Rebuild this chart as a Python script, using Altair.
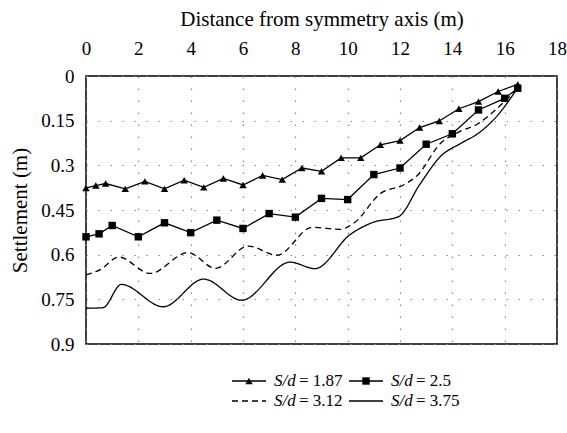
import altair as alt
import pandas as pd

# ---------------- data ----------------
x_ticks = [0, 2, 4, 6, 8, 10, 12, 14, 16, 18]
y_ticks = [0, 0.15, 0.3, 0.45, 0.6, 0.75, 0.9]

series_labels = ["1.87", "2.5", "3.12", "3.75"]

x_187 = [0.0, 0.375, 0.75, 1.5, 2.25, 3.0, 3.75, 4.5, 5.25, 6.0, 6.75, 7.5, 8.25,
         9.0, 9.75, 10.5, 11.25, 12.0, 12.75, 13.5, 14.25, 15.0, 15.75, 16.5]
y_187 = [0.376, 0.368, 0.361, 0.379, 0.354, 0.379, 0.350, 0.374, 0.344, 0.366, 0.334, 0.348, 0.309,
         0.320, 0.275, 0.275, 0.231, 0.217, 0.173, 0.151, 0.110, 0.086, 0.052, 0.028]

x_25 = [0.0, 0.5, 1.0, 2.0, 3.0, 4.0, 5.0, 6.0, 7.0, 8.0, 9.0, 10.0, 11.0, 12.0,
        13.0, 14.0, 15.0, 16.0, 16.5]
y_25 = [0.540, 0.530, 0.502, 0.540, 0.493, 0.526, 0.484, 0.512, 0.462, 0.474, 0.411, 0.415,
        0.331, 0.309, 0.229, 0.194, 0.114, 0.075, 0.041]

x_312 = [0.0, 0.55, 1.25, 2.45, 3.9, 4.95, 6.2, 7.3, 8.65, 9.7, 10.25, 11.25, 12.15,
         12.65, 13.55, 14.3, 14.95, 15.65, 16.5]
y_312 = [0.668, 0.650, 0.608, 0.663, 0.593, 0.646, 0.571, 0.602, 0.508, 0.515, 0.493,
         0.395, 0.365, 0.335, 0.226, 0.186, 0.162, 0.114, 0.040]

x_375 = [0.0, 0.65, 1.35, 2.95, 4.5, 5.95, 7.8, 8.75, 10.1, 10.95, 11.95, 12.75,
         13.55, 14.35, 14.95, 15.65, 16.5]
y_375 = [0.780, 0.778, 0.700, 0.775, 0.682, 0.753, 0.625, 0.647, 0.532, 0.492, 0.472,
         0.365, 0.270, 0.225, 0.195, 0.140, 0.040]

# ---------------- build table ----------------
rows = []
for lab, xs, ys in zip(series_labels, [x_187, x_25, x_312, x_375], [y_187, y_25, y_312, y_375]):
    for a, b in zip(xs, ys):
        rows.append({"series": lab, "x": a, "y": b})
df = pd.DataFrame(rows)

FONT = "Liberation Serif, DejaVu Serif, Times New Roman, serif"
W, H = 471, 268
LABEL_SIZE = 19
TITLE_SIZE = 21
LEGEND_SIZE = 17

x_enc = alt.X("x:Q",
              scale=alt.Scale(domain=[0, 18], nice=False, zero=False),
              axis=alt.Axis(orient="top", values=x_ticks, title="Distance from symmetry axis (m)",
                            labelPadding=18, titlePadding=10, ticks=False, domain=False,
                            grid=True, labelFlush=False))
y_enc = alt.Y("y:Q",
              scale=alt.Scale(domain=[0, 0.9], reverse=True, nice=False, zero=False),
              axis=alt.Axis(values=y_ticks, format=".2~f", title="Settlement (m)",
                            labelPadding=12, titlePadding=10, ticks=False, domain=False,
                            grid=True, labelFlush=False))

base = alt.Chart(df)

marker_lines = base.transform_filter(
    alt.FieldOneOfPredicate(field="series", oneOf=["1.87", "2.5"])
).mark_line(color="black", strokeWidth=1.3).encode(x=x_enc, y=y_enc, detail="series:N")

marker_pts = base.transform_filter(
    alt.FieldOneOfPredicate(field="series", oneOf=["1.87", "2.5"])
).mark_point(filled=True, color="black", opacity=1, size=55).encode(
    x=x_enc, y=y_enc,
    shape=alt.Shape("series:N", scale=alt.Scale(domain=["1.87", "2.5"], range=["triangle-up", "square"]),
                    legend=None))

smooth_lines = base.transform_filter(
    alt.FieldOneOfPredicate(field="series", oneOf=["3.12", "3.75"])
).mark_line(color="black", strokeWidth=1.3, interpolate="monotone").encode(
    x=x_enc, y=y_enc,
    strokeDash=alt.StrokeDash("series:N", scale=alt.Scale(domain=["3.12", "3.75"], range=[[6, 4], [1, 0]]),
                              legend=None))

# ---------------- manual legend (layout in plot-relative pixels) ----------------
one = pd.DataFrame({"k": [0]})
col_line_x = [146, 263]
line_len = 34
row_y = [305, 325]
legend_layers = []
for i, lab in enumerate(series_labels):
    c = i % 2
    r = i // 2
    lx = col_line_x[c]
    ly = row_y[r]
    dash = [6, 4] if lab == "3.12" else [1, 0]
    rule = alt.Chart(one).mark_rule(color="black", strokeWidth=1.3, strokeDash=dash).encode(
        x=alt.value(lx), x2=alt.value(lx + line_len), y=alt.value(ly))
    legend_layers.append(rule)
    if lab in ("1.87", "2.5"):
        shp = "triangle-up" if lab == "1.87" else "square"
        pt = alt.Chart(one).mark_point(filled=True, color="black", opacity=1, size=55, shape=shp).encode(
            x=alt.value(lx + line_len / 2), y=alt.value(ly))
        legend_layers.append(pt)
    tx = lx + line_len + 8
    t1 = alt.Chart(one).mark_text(font=FONT, fontSize=LEGEND_SIZE, fontStyle="italic", align="left",
                                  baseline="middle", color="black").encode(
        x=alt.value(tx), y=alt.value(ly), text=alt.value("S/d"))
    t2 = alt.Chart(one).mark_text(font=FONT, fontSize=LEGEND_SIZE, align="left",
                                  baseline="middle", color="black").encode(
        x=alt.value(tx + 25), y=alt.value(ly), text=alt.value("= " + lab))
    legend_layers += [t1, t2]

chart = alt.layer(marker_lines, marker_pts, smooth_lines, *legend_layers).properties(
    width=W, height=H,
    autosize=alt.AutoSizeParams(type="none"),
    padding={"left": 86, "top": 76, "right": 10, "bottom": 89},
    background="white",
).configure_view(
    stroke="black", strokeWidth=1.5
).configure_axis(
    labelFont=FONT, titleFont=FONT, labelFontSize=LABEL_SIZE, titleFontSize=TITLE_SIZE,
    labelColor="black", titleColor="black", titleFontWeight="normal",
    gridColor="#8a8a8a", gridDash=[1.5, 10.5], gridWidth=1.2,
)

chart.save("out.html", embed_options={"renderer": "svg", "actions": False})
